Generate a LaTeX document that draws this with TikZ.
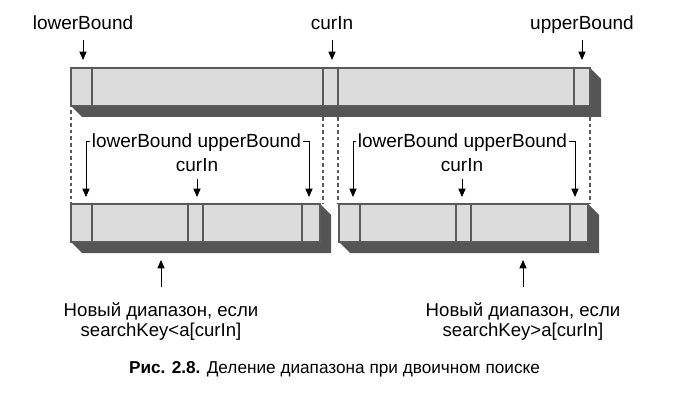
\documentclass[tikz,border=0pt]{standalone}
\usepackage{fontspec}
\setmainfont{Liberation Sans}
\usetikzlibrary{arrows.meta,positioning}
\definecolor{barface}{HTML}{DCDCDC}
\definecolor{barline}{HTML}{5A5A5A}
\definecolor{barshade}{HTML}{555555}
\begin{document}
\begin{tikzpicture}[x=0.5pt,y=-0.5pt,line join=miter,bound node/.style={font=\fontsize{9.5}{11}\selectfont,inner sep=1pt,text height=6.8pt,text depth=0pt},note node/.style={font=\fontsize{9.3}{10}\selectfont,align=center,inner sep=1pt},face/.style={fill=barface,draw=barline,line width=0.8pt},shade/.style={fill=barshade},cell/.style={draw=barline,line width=0.8pt},pointer/.style={draw=black,line width=0.5pt,-{Triangle[length=4.2pt,width=3.6pt]}},guide/.style={draw=barline,line width=0.9pt,dash pattern=on 1.8pt off 1.5pt}]
\useasboundingbox (0,0) rectangle (686,417);
\begin{scope}
\fill[shade] (71,106) -- (82,117) -- (601,117) -- (601,79) -- (590,68) -- cycle;
\draw[face] (71,68) rectangle (590,106);
\draw[cell] (92,68) -- (92,106);
\draw[cell] (323,68) -- (323,106);
\draw[cell] (338,68) -- (338,106);
\draw[cell] (574,68) -- (574,106);
\fill[shade] (71,242) -- (82,253) -- (331,253) -- (331,215) -- (320,204) -- cycle;
\draw[face] (71,204) rectangle (320,242);
\draw[cell] (92,204) -- (92,242);
\draw[cell] (188,204) -- (188,242);
\draw[cell] (203,204) -- (203,242);
\draw[cell] (302,204) -- (302,242);
\fill[shade] (339,242) -- (350,253) -- (599,253) -- (599,215) -- (588,204) -- cycle;
\draw[face] (339,204) rectangle (588,242);
\draw[cell] (360,204) -- (360,242);
\draw[cell] (456,204) -- (456,242);
\draw[cell] (471,204) -- (471,242);
\draw[cell] (570,204) -- (570,242);
\end{scope}
\coordinate (gA1) at (71,110);
\coordinate (gA2) at (71,204);
\coordinate (gB1) at (323,117);
\coordinate (gB2) at (323,204);
\coordinate (gC1) at (338,117);
\coordinate (gC2) at (338,204);
\coordinate (gD1) at (590,117);
\coordinate (gD2) at (590,204);
\draw[guide] (gA1) -- (gA2);
\draw[guide] (gB1) -- (gB2);
\draw[guide] (gC1) -- (gC2);
\draw[guide] (gD1) -- (gD2);
\begin{scope}[every node/.style={bound node}]
\node[anchor=base] (lbTop) at (83,30) {lowerBound};
\node[anchor=base] (ciTop) at (332,30) {curIn};
\node[anchor=base] (ubTop) at (582,30) {upperBound};
\node[anchor=base] (rngL) at (196.5,148) {lowerBound upperBound};
\node[anchor=base] (ciL) at (197,171.5) {curIn};
\node[anchor=base] (rngR) at (462.5,148) {lowerBound upperBound};
\node[anchor=base] (ciR) at (462,171.5) {curIn};
\end{scope}
\coordinate (lbTip) at (83,60);
\coordinate (ciTip) at (332,60);
\coordinate (ubTip) at (582,60);
\coordinate (lbL) at (86,197);
\coordinate (ciLTip) at (197,197);
\coordinate (ubL) at (309,197);
\coordinate (lbR) at (353,197);
\coordinate (ciRTip) at (462,197);
\coordinate (ubR) at (575,197);
\coordinate (newLTip) at (161,260);
\coordinate (newRTip) at (523,260);
\begin{scope}[every node/.style={note node}]
\node[anchor=north] (newL) at (161,300) {Новый диапазон, если\\searchKey<a[curIn]};
\node[anchor=north] (newR) at (523,300) {Новый диапазон, если\\searchKey>a[curIn]};
\end{scope}
\node[font=\fontsize{8.6}{10}\selectfont,anchor=base] (cap) at (334.5,373) {\textbf{Рис. 2.8.} Деление диапазона при двоичном поиске};
\begin{scope}[every edge/.style={pointer,shorten <=4pt}]
\draw (lbTop) edge (lbTip);
\draw (ciTop) edge (ciTip);
\draw (ubTop) edge (ubTip);
\end{scope}
\draw[pointer,shorten <=2.5pt] (ciL) -- (ciLTip);
\draw[pointer,shorten <=2.5pt] (ciR) -- (ciRTip);
\draw[pointer] (rngL.west) -| (lbL);
\draw[pointer] (rngL.east) -| (ubL);
\draw[pointer] (rngR.west) -| (lbR);
\draw[pointer] (rngR.east) -| (ubR);
\draw[pointer,shorten <=6.5pt] (newL) -- (newLTip);
\draw[pointer,shorten <=6.5pt] (newR) -- (newRTip);
\end{tikzpicture}
\end{document}
